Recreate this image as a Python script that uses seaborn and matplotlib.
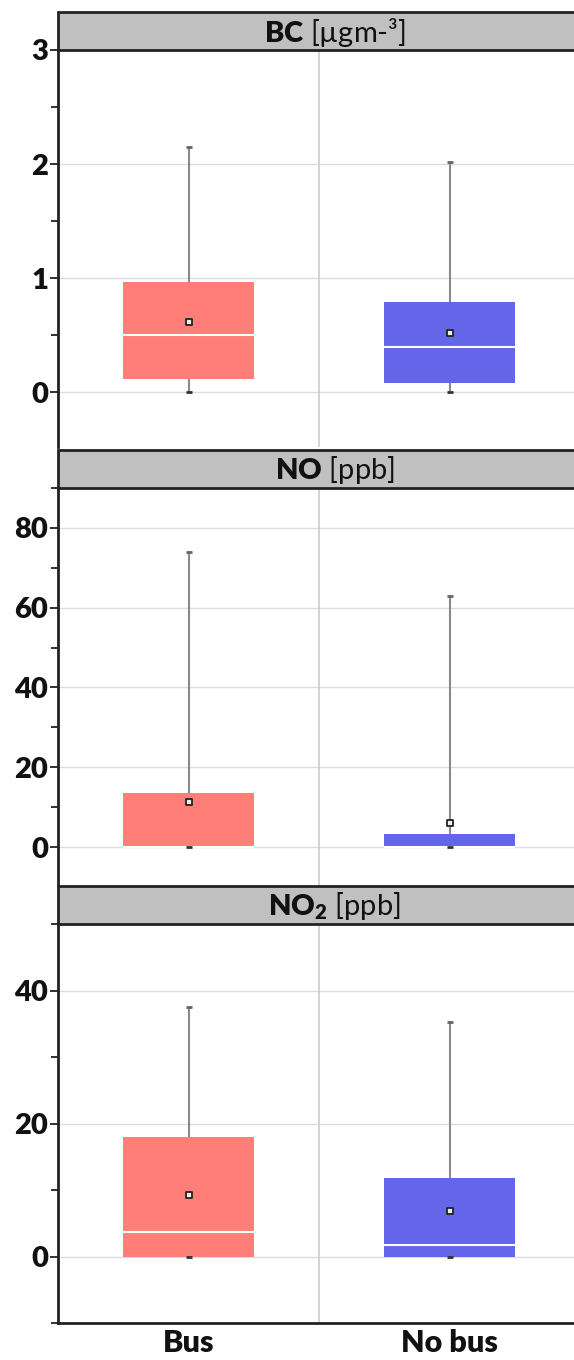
import numpy as np
import pandas as pd
import matplotlib
matplotlib.use("Agg")
import matplotlib.pyplot as plt
from matplotlib.patches import Rectangle
import seaborn as sns

# ---------------- data ----------------
groups = ["Bus", "No bus"]
colors = ["#FF7F78", "#6366E8"]

bc_lo = [0.0, 0.0]
bc_q1 = [0.12, 0.08]
bc_med = [0.50, 0.40]
bc_q3 = [0.97, 0.79]
bc_hi = [2.15, 2.02]
bc_mean = [0.62, 0.52]

no_lo = [0.0, 0.0]
no_q1 = [0.0, 0.0]
no_med = [0.0, 0.0]
no_q3 = [13.5, 3.2]
no_hi = [74.0, 63.0]
no_mean = [11.3, 6.0]

no2_lo = [0.0, 0.0]
no2_q1 = [0.0, 0.0]
no2_med = [3.7, 1.8]
no2_q3 = [18.0, 11.8]
no2_hi = [37.5, 35.3]
no2_mean = [9.3, 6.8]

titles = [r"$\mathbf{BC}$ [µgm-³]", r"$\mathbf{NO}$ [ppb]", r"$\mathbf{NO_2}$ [ppb]"]
panels = [
    (bc_lo, bc_q1, bc_med, bc_q3, bc_hi, bc_mean),
    (no_lo, no_q1, no_med, no_q3, no_hi, no_mean),
    (no2_lo, no2_q1, no2_med, no2_q3, no2_hi, no2_mean),
]
ylims = [(-0.48, 3.0), (-9.5, 90.0), (-10.0, 50.0)]
major = [[0, 1, 2, 3], [0, 20, 40, 60, 80], [0, 20, 40]]
minor = [[0.5, 1.5, 2.5], [10, 30, 50, 70, 90], [-10, 10, 30, 50]]

# ---------------- style ----------------
FONT = "Lato"
sns.set_theme(style="white")
plt.rcParams["font.family"] = [FONT, "DejaVu Sans"]
plt.rcParams["mathtext.fontset"] = "custom"
plt.rcParams["mathtext.rm"] = FONT
plt.rcParams["mathtext.bf"] = FONT + ":heavy"

fig = plt.figure(figsize=(5.74, 13.6), dpi=100)
H = 1360.0
left = 58 / 574
width = 522 / 574
plot_spans = [(50, 447), (488, 885), (924, 1323)]
strip_h = 38

for i, (stats, (top, bot)) in enumerate(zip(panels, plot_spans)):
    lo, q1, med, q3, hi, mean = stats
    ax = fig.add_axes([left, 1 - bot / H, width, (bot - top) / H])
    rows = []
    for g, a, b, c, d, e in zip(groups, lo, q1, med, q3, hi):
        for v in (a, b, c, d, e):
            rows.append({"group": g, "value": v})
    df = pd.DataFrame(rows)
    sns.boxplot(data=df, x="group", y="value", hue="group", order=groups,
                hue_order=groups, palette=colors, dodge=False, width=0.505,
                whis=np.inf, showfliers=False, showcaps=False, legend=False,
                linewidth=0, saturation=1,
                boxprops=dict(edgecolor="none"),
                medianprops=dict(color="white", linewidth=1.5),
                whiskerprops=dict(color="#8a8a8a", linewidth=1.5),
                ax=ax, zorder=3)
    # caps
    ax.scatter(groups, hi, marker="_", s=18, color="#666666", linewidths=2.0, zorder=4)
    ax.scatter(groups, lo, marker="_", s=18, color="#333333", linewidths=2.0, zorder=4)
    # means
    ax.scatter(groups, mean, marker="s", s=18, facecolor="#f4eeee",
               edgecolor="#222222", linewidths=1.3, zorder=5)

    ax.set_xlim(-0.5, 1.5)
    ax.set_ylim(*ylims[i])
    ax.set_yticks(major[i])
    ax.set_yticks(minor[i], minor=True)
    ax.set_yticklabels([str(t) for t in major[i]], fontsize=21, fontweight="heavy",
                       color="#111111")
    ax.tick_params(axis="y", which="major", length=6, width=1.3, color="#222222",
                   left=True, pad=1)
    ax.tick_params(axis="y", which="minor", length=5, width=1.3, color="#222222",
                   left=True)
    ax.yaxis.grid(True, which="major", color="#dddddd", linewidth=1.0, zorder=0)
    ax.set_axisbelow(True)
    ax.axvline(0.5, color="#cccccc", linewidth=1.2, zorder=1)
    ax.set_xlabel("")
    ax.set_ylabel("")
    for s in ["top", "right"]:
        ax.spines[s].set_visible(False)
    ax.spines["left"].set_color("#222222")
    ax.spines["left"].set_linewidth(2.0)
    if i == 2:
        ax.spines["bottom"].set_color("#222222")
        ax.spines["bottom"].set_linewidth(2.0)
        ax.set_xticks([0, 1])
        ax.set_xticklabels(groups, fontsize=22, fontweight="heavy", color="#111111")
        ax.tick_params(axis="x", length=0, pad=4)
    else:
        ax.spines["bottom"].set_visible(False)
        ax.set_xticks([])

    # strip header
    sax = fig.add_axes([left, 1 - top / H, width, strip_h / H])
    sax.set_xlim(0, 1)
    sax.set_ylim(0, 1)
    sax.add_patch(Rectangle((0, 0), 1, 1, facecolor="#c0c0c0", edgecolor="#222222",
                            linewidth=2.0, transform=sax.transAxes, clip_on=False))
    sax.text((319 - 58) / 522 + 0.03, 0.47, titles[i], ha="center", va="center",
             fontsize=21, color="#111111")
    sax.axis("off")

fig.savefig("out.png", dpi=100)
